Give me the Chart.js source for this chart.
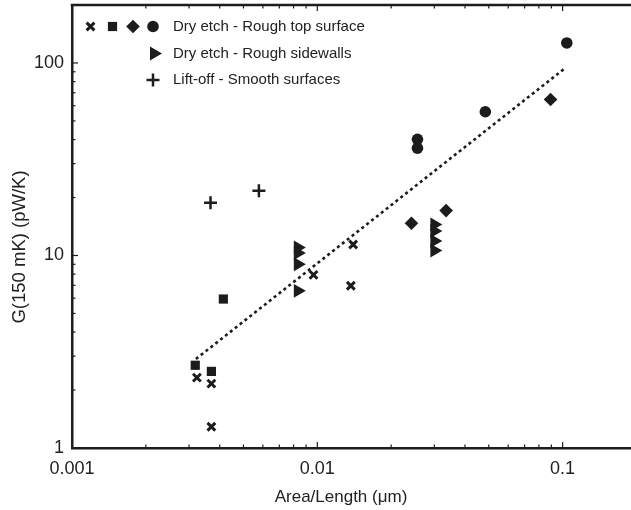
<!DOCTYPE html>
<html>
<head>
<meta charset="utf-8">
<script src="https://cdn.jsdelivr.net/npm/chart.js@4/dist/chart.umd.min.js"></script>
<style>
  html, body { margin: 0; padding: 0; background: #fff; }
  #wrap { width: 631px; height: 510px; position: relative; }
</style>
</head>
<body>
<div id="wrap"><canvas id="chart"></canvas></div>
<script>
// valores (escala log-log)
const crossX = [0.00323, 0.00370, 0.00370, 0.00965, 0.0140, 0.0137];
const crossY = [2.32, 2.16, 1.29, 7.93, 11.4, 6.96];
const squareX = [0.00318, 0.00370, 0.00414];
const squareY = [2.69, 2.50, 5.94];
const diamondX = [0.0242, 0.0335, 0.0893];
const diamondY = [14.7, 17.1, 64.6];
const circleX = [0.0256, 0.0256, 0.0484, 0.104];
const circleY = [40.1, 36.1, 55.8, 127];
const triangleX = [0.00833, 0.00833, 0.00833, 0.00833, 0.0300, 0.0300, 0.0300, 0.0300];
const triangleY = [11.0, 10.3, 9.0, 6.55, 14.5, 13.4, 11.9, 10.6];
const plusX = [0.00367, 0.00578];
const plusY = [18.8, 21.7];
const fitX = [0.0032, 0.103];
const fitY = [2.9, 94.6];

const xTicks = [0.001, 0.01, 0.1];
const yTicks = [1, 10, 100];
const legendRows = ['Dry etch - Rough top surface', 'Dry etch - Rough sidewalls', 'Lift-off - Smooth surfaces'];
const xTitle = 'Area/Length (\u03bcm)';
const yTitle = 'G(150 mK) (pW/K)';

const ink = '#1c1c1c';
const fontFamily = '"Liberation Sans", Arial, Helvetica, sans-serif';

function pts(xs, ys) {
  return xs.map((x, i) => ({ x: x, y: ys[i] }));
}

function isTick(list, v) {
  return list.some((t) => Math.abs(Math.log10(t) - Math.log10(v)) < 1e-6);
}

function isWhole(v) {
  const s = v / Math.pow(10, Math.floor(Math.log10(v) + 1e-9));
  return Math.abs(s - Math.round(s)) < 1e-6;
}

// marcas hacia adentro, borde superior, titulos y leyenda
const decor = {
  id: 'decor',
  afterDraw(chart) {
    const ctx = chart.ctx;
    const area = chart.chartArea;
    const xs = chart.scales.x;
    const ys = chart.scales.y;
    ctx.save();
    ctx.strokeStyle = ink;
    ctx.lineWidth = 1.2;

    xs.ticks.forEach((t) => {
      if (!isWhole(t.value)) return;
      const px = xs.getPixelForValue(t.value);
      if (px <= area.left + 1 || px >= area.right) return;
      const len = isTick(xTicks, t.value) ? 6 : 3.5;
      ctx.beginPath();
      ctx.moveTo(px, area.bottom);
      ctx.lineTo(px, area.bottom - len);
      ctx.moveTo(px, area.top);
      ctx.lineTo(px, area.top + len);
      ctx.stroke();
    });
    ys.ticks.forEach((t) => {
      if (!isWhole(t.value)) return;
      const py = ys.getPixelForValue(t.value);
      if (py >= area.bottom - 1 || py <= area.top) return;
      const len = isTick(yTicks, t.value) ? 6 : 3.5;
      ctx.beginPath();
      ctx.moveTo(area.left, py);
      ctx.lineTo(area.left + len, py);
      ctx.stroke();
    });

    ctx.lineWidth = 2.5;
    ctx.beginPath();
    ctx.moveTo(area.left - 1.25, area.top);
    ctx.lineTo(area.right, area.top);
    ctx.stroke();

    // titulos de ejes
    ctx.fillStyle = '#222';
    ctx.font = '17px ' + fontFamily;
    ctx.textAlign = 'center';
    ctx.textBaseline = 'middle';
    ctx.fillText(xTitle, 341, 497);
    ctx.save();
    ctx.font = '18.5px ' + fontFamily;
    ctx.translate(20, 247);
    ctx.rotate(-Math.PI / 2);
    ctx.fillText(yTitle, 0, 0);
    ctx.restore();

    // leyenda
    const rowY = [area.top + 21.5, area.top + 48.5, area.top + 75];
    const symX = [90.5, 112.5, 133, 153];
    const textX = 173;
    const sym = (style, x, y, r, bw, rot) => {
      ctx.fillStyle = ink;
      ctx.strokeStyle = ink;
      ctx.lineWidth = bw;
      Chart.helpers.drawPoint(ctx, { pointStyle: style, radius: r, rotation: rot || 0, borderWidth: bw }, x, y);
    };
    sym('crossRot', symX[0], rowY[0], 5.5, 3);
    sym('rect', symX[1], rowY[0], 6.5, 0);
    sym('rectRot', symX[2], rowY[0], 6.8, 0);
    sym('circle', symX[3], rowY[0], 5.8, 0);
    sym('triangle', symX[3] + 1, rowY[1], 8, 0, 90);
    sym('cross', symX[3], rowY[2], 6.5, 2.5);

    ctx.fillStyle = '#222';
    ctx.font = '15px ' + fontFamily;
    ctx.textAlign = 'left';
    ctx.textBaseline = 'middle';
    legendRows.forEach((txt, i) => ctx.fillText(txt, textX, rowY[i]));
    ctx.restore();
  }
};

const common = { borderColor: ink, backgroundColor: ink, pointHoverRadius: 0 };

function noPad(s) {
  s.paddingTop = 0;
  s.paddingBottom = 0;
  s.paddingLeft = 0;
  s.paddingRight = 0;
}

new Chart(document.getElementById('chart'), {
  type: 'scatter',
  data: {
    datasets: [
      Object.assign({}, common, {
        label: 'fit', data: pts(fitX, fitY), showLine: true, pointRadius: 0,
        borderWidth: 2.6, borderDash: [3, 3.2], borderCapStyle: 'butt'
      }),
      Object.assign({}, common, {
        label: 'cross', data: pts(crossX, crossY), pointStyle: 'crossRot',
        pointRadius: 5.5, pointBorderWidth: 3
      }),
      Object.assign({}, common, {
        label: 'square', data: pts(squareX, squareY), pointStyle: 'rect',
        pointRadius: 6.5, pointBorderWidth: 0
      }),
      Object.assign({}, common, {
        label: 'diamond', data: pts(diamondX, diamondY), pointStyle: 'rectRot',
        pointRadius: 6.8, pointBorderWidth: 0
      }),
      Object.assign({}, common, {
        label: 'circle', data: pts(circleX, circleY), pointStyle: 'circle',
        pointRadius: 5.8, pointBorderWidth: 0
      }),
      Object.assign({}, common, {
        label: 'triangle', data: pts(triangleX, triangleY), pointStyle: 'triangle',
        rotation: 90, pointRadius: 8, pointBorderWidth: 0
      }),
      Object.assign({}, common, {
        label: 'plus', data: pts(plusX, plusY), pointStyle: 'cross',
        pointRadius: 6.5, pointBorderWidth: 2.5
      })
    ]
  },
  options: {
    responsive: true,
    maintainAspectRatio: false,
    animation: false,
    layout: { autoPadding: false, padding: { top: 5, right: 0, left: 0, bottom: 0 } },
    plugins: { legend: { display: false }, tooltip: { enabled: false } },
    scales: {
      x: {
        type: 'logarithmic',
        min: 0.001,
        max: 0.19,
        afterFit: (s) => { s.height = 62; noPad(s); },
        grid: { display: true, drawOnChartArea: false, drawTicks: false, color: 'rgba(0,0,0,0)' },
        border: { display: true, color: ink, width: 2.5 },
        ticks: {
          autoSkip: false, maxRotation: 0, padding: 10,
          color: '#222', font: { family: fontFamily, size: 18 },
          callback: (v) => (isTick(xTicks, v) ? String(Number(Number(v).toPrecision(1))) : '')
        }
      },
      y: {
        type: 'logarithmic',
        min: 1,
        max: 200,
        afterFit: (s) => { s.width = 72; noPad(s); },
        grid: { display: true, drawOnChartArea: false, drawTicks: false, color: 'rgba(0,0,0,0)' },
        border: { display: true, color: ink, width: 2.5 },
        ticks: {
          autoSkip: false, padding: 8,
          color: '#222', font: { family: fontFamily, size: 18 },
          callback: (v) => (isTick(yTicks, v) ? String(Number(Number(v).toPrecision(1))) : '')
        }
      }
    }
  },
  plugins: [decor]
});
</script>
</body>
</html>
